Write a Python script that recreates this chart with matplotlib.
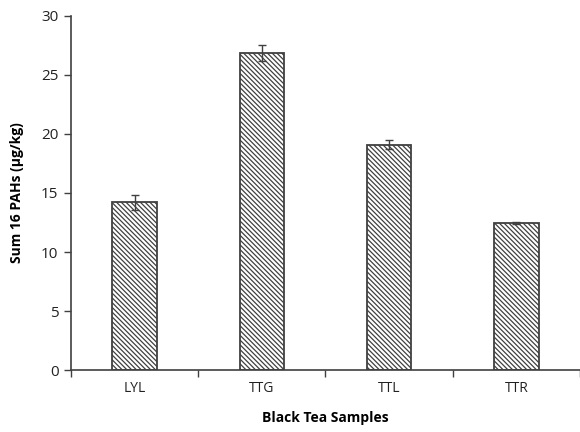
import matplotlib
matplotlib.use("Agg")
import matplotlib.pyplot as plt
import numpy as np

samples = ["LYL", "TTG", "TTL", "TTR"]
pah_sum = [14.2, 26.85, 19.1, 12.45]
pah_err = [0.6, 0.7, 0.4, 0.1]
y_ticks = [0, 5, 10, 15, 20, 25, 30]

plt.rcParams["font.family"] = ["Open Sans", "DejaVu Sans"]
plt.rcParams["hatch.linewidth"] = 0.9
plt.rcParams["hatch.color"] = "#2a2a2a"

fig = plt.figure(figsize=(5.8, 4.32), dpi=100)
ax = fig.add_axes([0.1224, 0.1435, 0.8776, 0.8195])

x = np.arange(len(samples))
ax.bar(x, pah_sum, width=0.35, color="white", edgecolor="#404040",
       linewidth=1.3, hatch="\\" * 7, zorder=2)
ax.errorbar(x, pah_sum, yerr=pah_err, fmt="none", ecolor="#404040",
            elinewidth=1.0, capsize=3, capthick=1.0, zorder=3)

ax.set_xlim(-0.5, len(samples) - 0.5)
ax.set_ylim(0, 30)
ax.set_yticks(y_ticks)
ax.set_xticks(x)
ax.set_xticklabels(samples)
ax.set_xticks(np.arange(len(samples) + 1) - 0.5, minor=True)

ax.tick_params(axis="x", which="major", length=0, pad=8, labelsize=10, colors="#222222")
ax.tick_params(axis="x", which="minor", length=5, width=1, direction="out", color="#404040")
ax.tick_params(axis="y", length=5, width=1, direction="out", color="#404040",
               labelsize=11, labelcolor="#222222", pad=4)

for side in ["top", "right"]:
    ax.spines[side].set_visible(False)
for side in ["left", "bottom"]:
    ax.spines[side].set_color("#404040")
    ax.spines[side].set_linewidth(1.2)

ax.set_xlabel("Black Tea Samples", fontsize=10, fontweight="bold", labelpad=11)
ax.set_ylabel("Sum 16 PAHs (\u00b5g/kg)", fontsize=10, fontweight="bold", labelpad=12)

fig.savefig("out.png", dpi=100)
